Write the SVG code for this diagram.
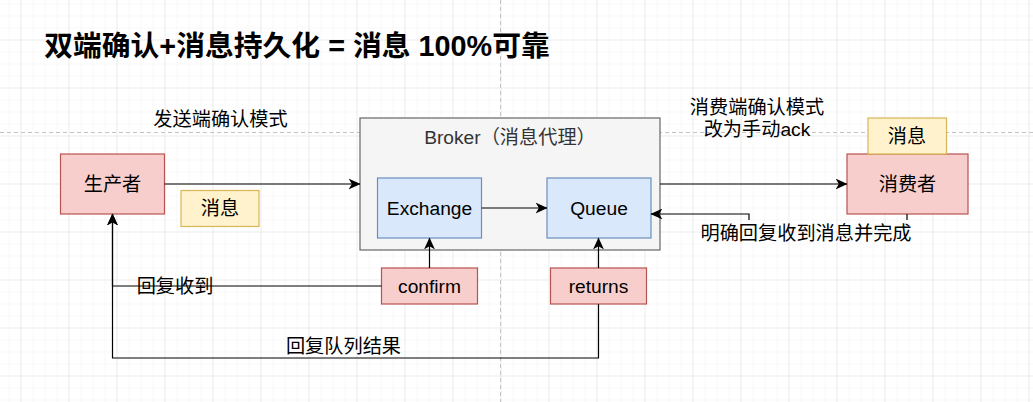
<svg xmlns="http://www.w3.org/2000/svg" width="1033" height="402" viewBox="0 0 1033 402">
<defs>
<pattern id="minor" x="20.5" y="39.5" width="12" height="12" patternUnits="userSpaceOnUse">
<path d="M0,0 H12 M0,0 V12" fill="none" stroke="#f1f1f1" stroke-width="1"/>
</pattern>
<pattern id="major" x="20.5" y="39.5" width="48" height="48" patternUnits="userSpaceOnUse">
<path d="M0,0 H48 M0,0 V48" fill="none" stroke="#e2e2e2" stroke-width="1"/>
</pattern>
<marker id="arrow" markerUnits="userSpaceOnUse" markerWidth="12" markerHeight="11" viewBox="0 0 11 10" refX="10.5" refY="5" orient="auto">
<path d="M0,0 L11,5 L0,10 L3,5 Z" fill="#000"/>
</marker>
</defs>
<style>
text{font-family:"Liberation Sans","Noto Sans CJK SC",sans-serif;font-size:19.2px;fill:#000;text-anchor:middle}
.title{font-size:28.8px;font-weight:bold}
.red{fill:#f8cecc;stroke:#b85450;stroke-width:1.2}
.yel{fill:#fff2cc;stroke:#d6b656;stroke-width:1.2}
.blue{fill:#dae8fc;stroke:#6c8ebf;stroke-width:1.2}
.gray{fill:#f5f5f5;stroke:#666;stroke-width:1.2}
.edge{fill:none;stroke:#000;stroke-width:1.2}
.arr{marker-end:url(#arrow)}
.page{fill:none;stroke:#c4c4c4;stroke-width:1;stroke-dasharray:4 3}
</style>
<rect width="1033" height="402" fill="#fff"/>
<rect width="1033" height="402" fill="url(#minor)"/>
<rect width="1033" height="402" fill="url(#major)"/>
<path class="page" d="M0,132.5 H1033 M500.5,0 V402"/>

<text class="title" x="297" y="56">双端确认+消息持久化 = 消息 100%可靠</text>
<text x="220.5" y="126">发送端确认模式</text>
<text x="757" y="113.5">消费端确认模式</text>
<text x="757" y="135.5">改为手动ack</text>

<g id="producer"><rect class="red" x="60.5" y="154" width="104" height="60"/><text x="112.5" y="191">生产者</text></g>
<g id="msg1"><rect class="yel" x="181" y="190.5" width="78" height="36"/><text x="220" y="215">消息</text></g>
<g id="broker"><rect class="gray" x="360" y="118" width="300" height="132"/><text x="510" y="144" style="fill:#333">Broker（消息代理）</text></g>
<g id="exchange"><rect class="blue" x="377.5" y="178" width="104" height="60"/><text x="429.5" y="215">Exchange</text></g>
<g id="queue"><rect class="blue" x="547" y="178" width="104" height="60"/><text x="599" y="215">Queue</text></g>
<g id="confirm"><rect class="red" x="381.5" y="268" width="96" height="36"/><text x="429.5" y="293">confirm</text></g>
<g id="returns"><rect class="red" x="550.5" y="268" width="96" height="36"/><text x="598.5" y="293">returns</text></g>
<g id="consumer"><rect class="red" x="847" y="154" width="121" height="60"/><text x="907.5" y="191">消费者</text></g>
<g id="msg2"><rect class="yel" x="868" y="118" width="78.5" height="36"/><text x="907" y="143">消息</text></g>
<g id="ack-label"><text x="806" y="239.5">明确回复收到消息并完成</text></g>

<g id="connectors">
<path class="edge arr" d="M164.5,184 H360"/>
<path class="edge arr" d="M481.5,208 H547"/>
<path class="edge arr" d="M660,184 H847"/>
<path class="edge" d="M907,214 V220"/>
<path class="edge arr" d="M749,220 V214 H651"/>
<path class="edge arr" d="M429.5,268 V238"/>
<path class="edge arr" d="M598.5,268 V238"/>
<path class="edge arr" d="M381.5,286 H112.5 V214"/>
<path class="edge arr" d="M598.5,304 V358 H112.5 V214"/>
<text x="175" y="293">回复收到</text>
<text x="343.5" y="353">回复队列结果</text>
</g>
</svg>
